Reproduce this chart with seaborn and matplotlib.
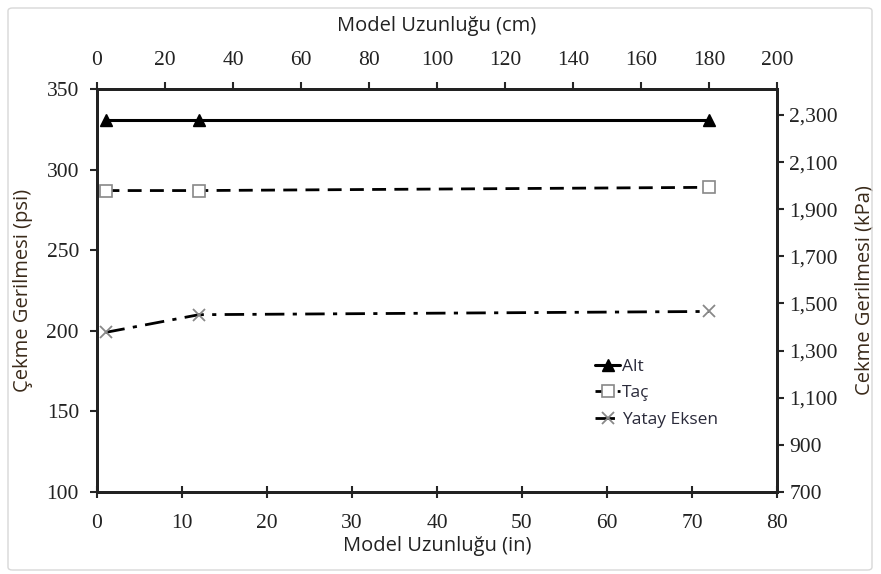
import matplotlib
matplotlib.use("Agg")
import matplotlib.pyplot as plt
import seaborn as sns
import pandas as pd
from matplotlib.patches import FancyBboxPatch
from matplotlib.font_manager import FontProperties, findfont

# ---- data ----
length_in = [1, 12, 72]
alt = [331, 331, 331]
tac = [287, 287, 289]
yatay = [199, 210, 212]
series_names = ["Alt", "Taç", "Yatay Eksen"]
bottom_ticks = [0, 10, 20, 30, 40, 50, 60, 70, 80]
top_ticks = [0, 20, 40, 60, 80, 100, 120, 140, 160, 180, 200]
left_ticks = [100, 150, 200, 250, 300, 350]
right_ticks = [700, 900, 1100, 1300, 1500, 1700, 1900, 2100, 2300]

df = pd.DataFrame({
    "x": length_in * 3,
    "y": alt + tac + yatay,
    "s": [series_names[0]] * 3 + [series_names[1]] * 3 + [series_names[2]] * 3,
})

sns.set_style("white")
plt.rcParams["font.family"] = "Liberation Serif"
serif_path = findfont(FontProperties(family="Liberation Serif"))
tick_fp = FontProperties(fname=serif_path, size=15.5)
sans = "Open Sans"
LBL = 14.5

fig = plt.figure(figsize=(8.81, 5.74), dpi=100)
ax = fig.add_axes([97 / 881, 1 - 492 / 574, 680 / 881, 403 / 574])

styles = {
    "Alt": dict(ls="-", marker="^", mfc="black", mec="black", ms=8, lw=2.2),
    "Taç": dict(ls=(0, (5, 3)), marker="s", mfc="white", mec="#888888", ms=9, lw=2.0, mew=1.2),
    "Yatay Eksen": dict(ls=(0, (7, 3, 1.5, 3)), marker="x", mfc="none", mec="#888888", ms=9, lw=2.0, mew=1.3),
}
for name in series_names:
    sub = df[df["s"] == name]
    st = styles[name]
    sns.lineplot(data=sub, x="x", y="y", ax=ax, color="black", linestyle=st["ls"],
                 linewidth=st["lw"], marker=st["marker"], markerfacecolor=st["mfc"],
                 markeredgecolor=st["mec"], markersize=st["ms"],
                 markeredgewidth=st.get("mew", 1.0), label=name)

ax.set_xlim(0, 80)
ax.set_ylim(100, 350)
ax.tick_params(axis="both", direction="out", length=5, width=1.5, pad=8)
ax.tick_params(axis="x", direction="inout", length=8, pad=12)
ax.set_xticks(bottom_ticks, [str(t) for t in bottom_ticks], fontproperties=tick_fp, color="#222222")
ax.set_yticks(left_ticks, [str(t) for t in left_ticks], fontproperties=tick_fp, color="#222222")
ax.set_xlabel("Model Uzunluğu (in)", fontsize=LBL, family=sans, color="#222222", labelpad=2)
ax.set_ylabel("Çekme Gerilmesi (psi)", fontsize=LBL, family=sans, color="#3a2a1a", labelpad=10)

# right axis (kPa)
axr = ax.twinx()
axr.set_ylim(700, 2410)
axr.tick_params(axis="y", direction="out", length=5, width=1.5, pad=4)
axr.set_yticks(right_ticks, [f"{t:,}" for t in right_ticks], fontproperties=tick_fp, color="#222222")
axr.set_ylabel("Cekme Gerilmesi (kPa)", fontsize=LBL, family=sans, color="#3a2a1a", labelpad=12)

# top axis (cm)
axt = ax.twiny()
axt.set_xlim(0, 200)
axt.tick_params(axis="x", direction="out", length=5, width=1.5, pad=9)
axt.set_xticks(top_ticks, [str(t) for t in top_ticks], fontproperties=tick_fp, color="#222222")
axt.set_xlabel("Model Uzunluğu (cm)", fontsize=LBL, family=sans, color="#222222", labelpad=14)

for a in (ax, axr, axt):
    for sp in a.spines.values():
        sp.set_color("#222222")
        sp.set_linewidth(2.0)

leg = ax.legend(loc="upper left", bbox_to_anchor=(0.71, 0.37), frameon=False,
                handlelength=1.4, handletextpad=0.15, labelspacing=0.6,
                prop=FontProperties(family=sans, size=12.5))
for t in leg.get_texts():
    t.set_color("#2a2a3a")

fig.canvas.draw()
for a in (ax, axr, axt):
    for axis in (a.xaxis, a.yaxis):
        for tk in axis.get_major_ticks():
            for lab in (tk.label1, tk.label2):
                lab.set_fontproperties(tick_fp)

# light border around figure
fig.patches.append(FancyBboxPatch((8 / 881, 4 / 574), 864 / 881, 562 / 574,
                                  boxstyle="round,pad=0,rounding_size=0.005",
                                  transform=fig.transFigure, fill=False,
                                  edgecolor="#d8d8d8", linewidth=1.0))

fig.savefig("out.png", dpi=100)
